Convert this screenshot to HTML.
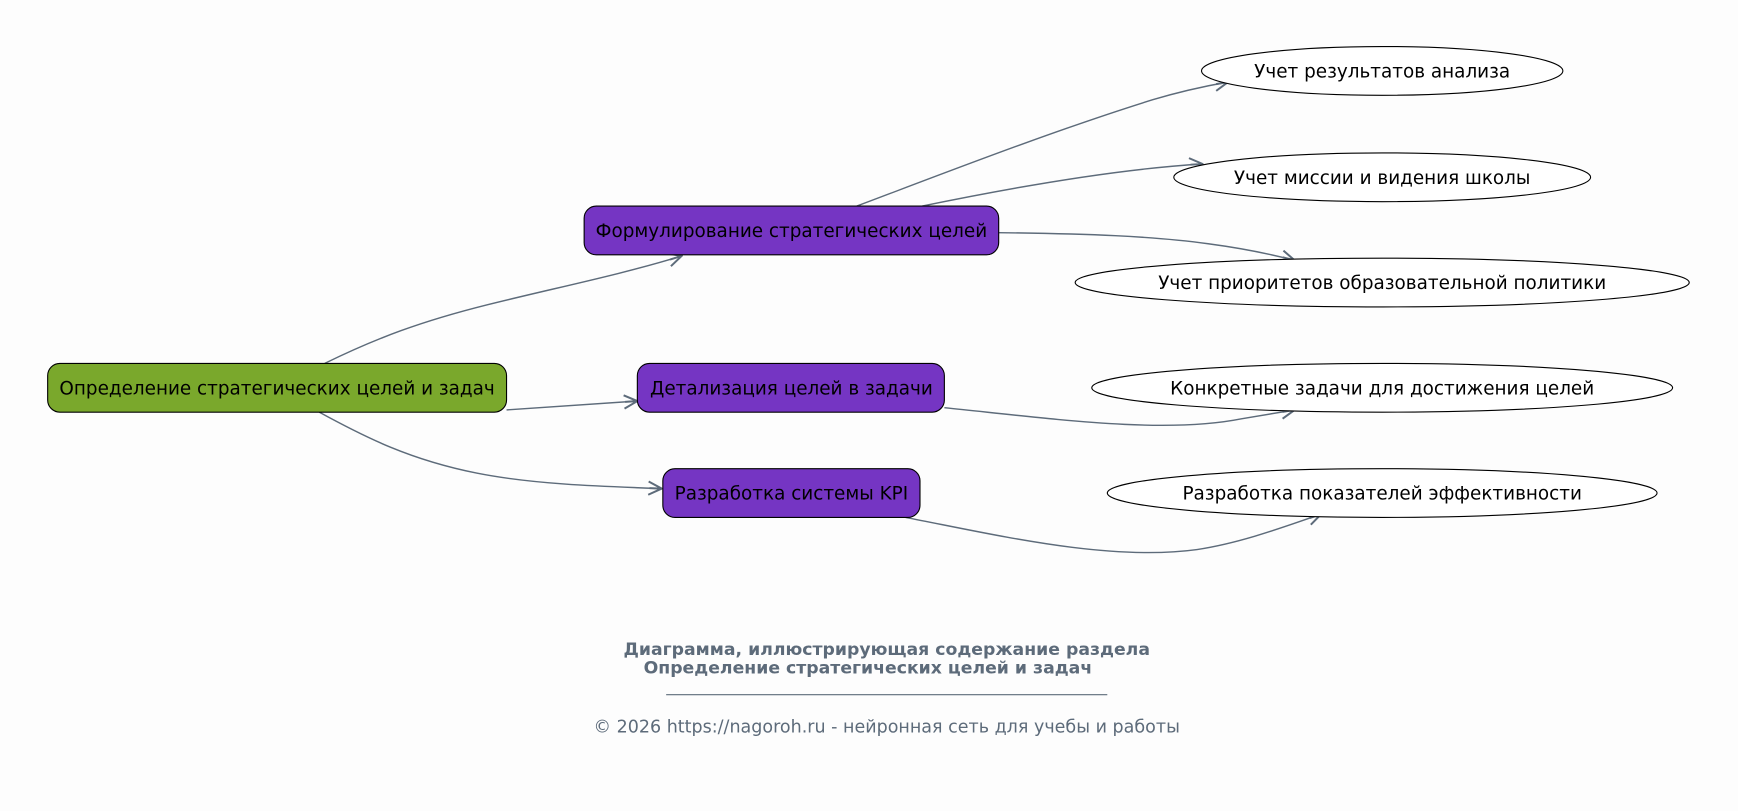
<!DOCTYPE html>
<html><head><meta charset="utf-8"><style>
html,body{margin:0;padding:0;background:#fdfdfd;}
svg{display:block}
text{font-family:"DejaVu Sans","Liberation Sans",sans-serif;}
</style></head><body>
<svg width="1738" height="811" viewBox="0 0 1568 732" preserveAspectRatio="none" xmlns="http://www.w3.org/2000/svg">
<defs>
<marker id="a" viewBox="0 0 14 14" refX="13" refY="7" markerWidth="14" markerHeight="14" markerUnits="userSpaceOnUse" orient="auto">
<path d="M1,1 L13,7 L1,13 M13,7 L2,7" fill="none" stroke="#5d6b7a" stroke-width="1.8"/>
</marker>
</defs>
<rect width="1568" height="732" fill="#fdfdfd"/>
<g fill="none" stroke="#5d6b7a" stroke-width="1.3" marker-end="url(#a)">
<path d="M293,328 C340,305 380,290 440,275 C500,260 560,248 615,231"/>
<path d="M457,370 L575,362"/>
<path d="M288,372 C330,395 370,415 430,427 C480,437 540,439 597,441"/>
<path d="M773,186 C850,157 950,118 1040,90 C1060,84 1080,79 1108,74"/>
<path d="M832,186 C900,172 1000,153 1085,148"/>
<path d="M901,210 C980,211 1040,213 1090,220 C1120,224 1145,229 1168,235"/>
<path d="M852,368 C950,378 1050,392 1120,378 L1168,370"/>
<path d="M817,467 C900,483 1000,507 1080,496 C1120,490 1160,475 1192,464"/>
</g>
<g stroke="#000" stroke-width="1">
<rect x="43" y="328" width="414" height="44" rx="11" fill="#7aa82c"/>
<rect x="527" y="186" width="374" height="44" rx="11" fill="#7535c3"/>
<rect x="575" y="328" width="277" height="44" rx="11" fill="#7535c3"/>
<rect x="598" y="423" width="232" height="44" rx="11" fill="#7535c3"/>
<ellipse cx="1247" cy="64" rx="163" ry="22" fill="#fff"/>
<ellipse cx="1247" cy="160" rx="188" ry="22" fill="#fff"/>
<ellipse cx="1247" cy="255" rx="277" ry="22" fill="#fff"/>
<ellipse cx="1247" cy="350" rx="262" ry="22" fill="#fff"/>
<ellipse cx="1247" cy="445" rx="248" ry="22" fill="#fff"/>
</g>
<g font-size="16.6" text-anchor="middle" fill="#000">
<text x="250" y="356">Определение стратегических целей и задач</text>
<text x="714" y="214">Формулирование стратегических целей</text>
<text x="714" y="356">Детализация целей в задачи</text>
<text x="714" y="451">Разработка системы KPI</text>
<text x="1247" y="70">Учет результатов анализа</text>
<text x="1247" y="166">Учет миссии и видения школы</text>
<text x="1247" y="261">Учет приоритетов образовательной политики</text>
<text x="1247" y="356">Конкретные задачи для достижения целей</text>
<text x="1247" y="451">Разработка показателей эффективности</text>
</g>
<g fill="#5d6b7a" text-anchor="middle">
<text x="800" y="591" font-size="15.6" font-weight="bold">Диаграмма, иллюстрирующая содержание раздела</text>
<text x="783" y="608" font-size="15.6" font-weight="bold">Определение стратегических целей и задач</text>
<text x="800" y="661" font-size="15.8">© 2026 https://nagoroh.ru - нейронная сеть для учебы и работы</text>
</g>
<line x1="601" y1="627" x2="999" y2="627" stroke="#5d6b7a" stroke-width="1"/>
</svg>
</body></html>
